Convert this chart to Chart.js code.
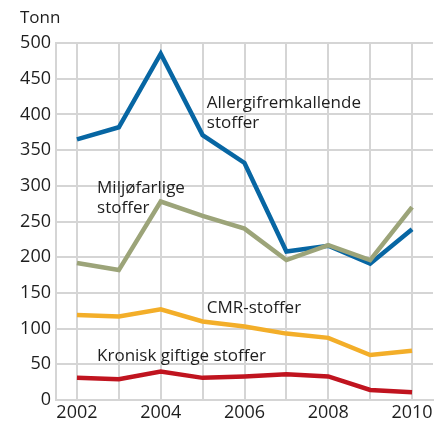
<!DOCTYPE html>
<html>
<head>
<meta charset="utf-8">
<script src="https://cdn.jsdelivr.net/npm/chart.js@4.4.0/dist/chart.umd.min.js"></script>
<style>
  html, body { margin: 0; padding: 0; background: #fff; }
  #wrap { position: relative; width: 436px; height: 423px; }
</style>
</head>
<body>
<div id="wrap"><canvas id="chart" width="436" height="423"></canvas></div>
<script>
// ---------------------------------------------------------------------------
// Data (tonn)
// ---------------------------------------------------------------------------
const years = ['2002', '2003', '2004', '2005', '2006', '2007', '2008', '2009', '2010'];
const allergi = [365, 382, 485, 371, 332, 208, 216, 191, 239];
const miljo = [192, 182, 278, 258, 240, 196, 217, 196, 270];
const cmr = [119, 117, 127, 110, 103, 93, 87, 63, 69];
const kronisk = [31, 29, 40, 31, 33, 36, 33, 14, 11];
const yTicks = [0, 50, 100, 150, 200, 250, 300, 350, 400, 450, 500];

const FONT = 'Open Sans';
const GRID = '#d5d5d5';
const TEXT = '#1e1e1e';

// text labels placed in data coordinates (x index, y value)
const notes = [
    { lines: ['Allergifremkallende', 'stoffer'], x: 3.1, y: 416 },
    { lines: ['Miljøfarlige', 'stoffer'], x: 0.48, y: 297 },
    { lines: ['CMR-stoffer'], x: 3.1, y: 128 },
    { lines: ['Kronisk giftige stoffer'], x: 0.48, y: 62 }
];

const annotate = {
    id: 'annotate',
    afterDatasetsDraw(chart) {
        const { ctx, scales } = chart;
        ctx.save();
        ctx.font = '17px "' + FONT + '"';
        ctx.fillStyle = TEXT;
        ctx.textBaseline = 'middle';
        ctx.textAlign = 'left';
        notes.forEach(n => {
            const px = scales.x.getPixelForValue(n.x);
            const py = scales.y.getPixelForValue(n.y);
            n.lines.forEach((l, i) => ctx.fillText(l, px, py + i * 20));
        });
        // unit
        ctx.fillText('Tonn', 20, 18);
        ctx.restore();
    }
};

function series(data, color) {
    return {
        data: data,
        borderColor: color,
        backgroundColor: color,
        borderWidth: 4.5,
        pointRadius: 0,
        tension: 0,
        fill: false,
        borderJoinStyle: 'miter',
        borderCapStyle: 'butt'
    };
}

new Chart(document.getElementById('chart'), {
    type: 'line',
    data: {
        labels: years,
        datasets: [
            series(kronisk, '#c0141f'),
            series(cmr, '#f3ae29'),
            series(miljo, '#9ca479'),
            series(allergi, '#0766a3')
        ]
    },
    plugins: [annotate],
    options: {
        responsive: false,
        animation: false,
        layout: { padding: { top: 43, right: 3, left: 0, bottom: 0 } },
        plugins: {
            legend: { display: false },
            tooltip: { enabled: false }
        },
        scales: {
            x: {
                type: 'category',
                offset: true,
                grid: { color: GRID, lineWidth: 2, offset: false, drawTicks: false },
                border: { display: true, color: GRID, width: 2 },
                ticks: {
                    color: TEXT,
                    font: { family: FONT, size: 18 },
                    padding: 2,
                    maxRotation: 0,
                    autoSkip: false,
                    callback: (v, i) => (i % 2 === 0 ? years[i] : '')
                },
                afterFit: s => { s.height = 23; }
            },
            y: {
                min: 0,
                max: 500,
                afterBuildTicks: s => { s.ticks = yTicks.map(v => ({ value: v })); },
                grid: { color: GRID, lineWidth: 2, drawTicks: false },
                border: { display: true, color: GRID, width: 2 },
                ticks: {
                    color: TEXT,
                    font: { family: FONT, size: 18 },
                    padding: 5
                },
                afterFit: s => { s.width = 56; }
            }
        }
    }
});
</script>
</body>
</html>
